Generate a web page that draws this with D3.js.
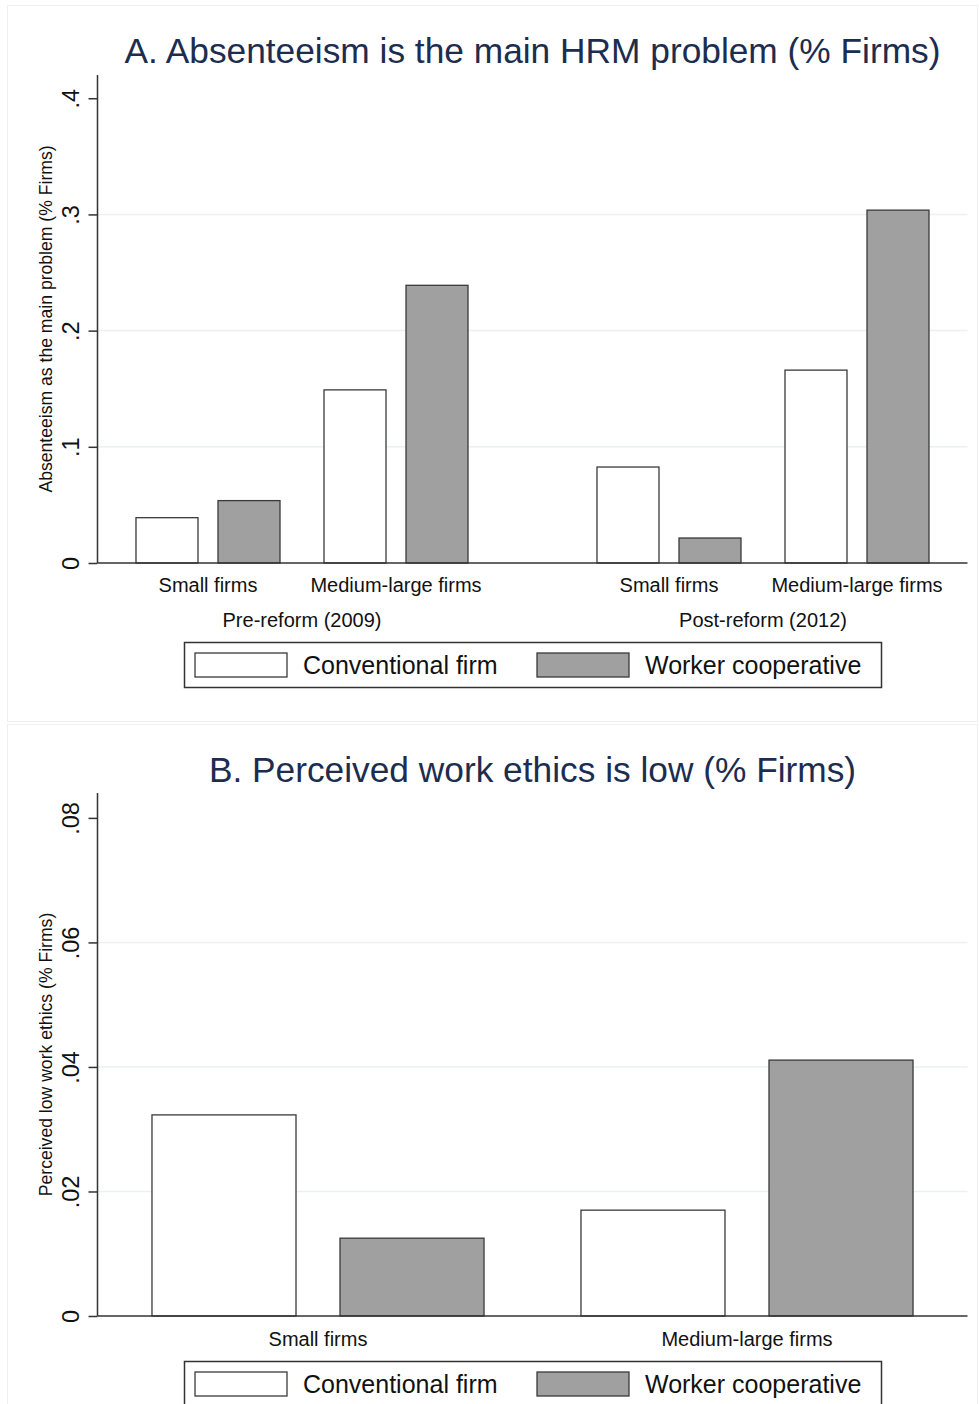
<!DOCTYPE html>
<html>
<head>
<meta charset="utf-8">
<script src="https://cdn.jsdelivr.net/npm/d3@7"></script>
<style>
    body { margin: 0; background: #fff; }
    svg { display: block; font-family: "Liberation Sans", Arial, sans-serif; }
    .title { fill: #1c2d4f; font-size: 35.3px; }
    .y-title { font-size: 17.6px; fill: #111; }
    .y-axis text { font-size: 23.5px; fill: #111; }
    .cat-label, .group-label { font-size: 20px; fill: #111; }
    .legend text { font-size: 25px; fill: #111; }
</style>
</head>
<body>
<div id="chart"></div>
<script>
// ---- data ----
const seriesNames = ["Conventional firm", "Worker cooperative"];
const seriesFill = ["#ffffff", "#a0a0a0"];

// panel A: absenteeism
const periodsA = ["Pre-reform (2009)", "Post-reform (2012)"];
const sizesA = ["Small firms", "Medium-large firms"];
// order: pre small, pre medium-large, post small, post medium-large
const convA = [0.039, 0.149, 0.0826, 0.166];
const coopA = [0.0537, 0.239, 0.0215, 0.3037];
const ticksA = [0, 0.1, 0.2, 0.3, 0.4];

// panel B: perceived work ethics
const sizesB = ["Small firms", "Medium-large firms"];
const convB = [0.0323, 0.0170];
const coopB = [0.0125, 0.0411];
const ticksB = [0, 0.02, 0.04, 0.06, 0.08];

const W = 979, H = 1404;

const svg = d3.select("#chart")
    .append("svg")
    .attr("width", W)
    .attr("height", H);

// tick format: ".1", ".02", "0"
const fmt = d => d === 0 ? "0" : d3.format(".2~f")(d).replace(/^0/, "");

function drawPanel(cfg) {
    let g = svg.append("g");

    // faint panel frame
    g.append("rect")
        .attr("x", 7.5).attr("y", cfg.frameTop + 0.5)
        .attr("width", 970).attr("height", cfg.frameH)
        .attr("fill", "none")
        .attr("stroke", "#efefef");

    let left = 97.5, right = 967.5;
    let y = d3.scaleLinear()
        .domain([0, cfg.yMax])
        .range([cfg.y0, cfg.yTop]);

    // gridlines (inner ticks only)
    g.selectAll("line.grid")
        .data(cfg.ticks.slice(1, -1))
        .enter()
        .append("line")
        .attr("class", "grid")
        .attr("x1", left).attr("x2", right)
        .attr("y1", d => y(d)).attr("y2", d => y(d))
        .attr("stroke", "#eaf0f3")
        .attr("stroke-width", 1.5);

    // scales for bar positions
    let outer = d3.scaleBand()
        .domain(cfg.outerDomain)
        .range([left, right])
        .paddingInner(cfg.outerPadIn)
        .paddingOuter(cfg.outerPadOut);
    let inner = cfg.innerDomain ? d3.scaleBand()
        .domain(cfg.innerDomain)
        .range([0, outer.bandwidth()])
        .paddingInner(0.234) : null;
    let seriesBand = d3.scaleBand()
        .domain(seriesNames)
        .range([0, inner ? inner.bandwidth() : outer.bandwidth()])
        .paddingInner(cfg.seriesPad);

    // flatten values
    let rows = [];
    cfg.conv.forEach((v, i) => {
        let o = inner ? cfg.outerDomain[Math.floor(i / 2)] : cfg.outerDomain[i];
        let c = inner ? cfg.innerDomain[i % 2] : null;
        let base = outer(o) + (inner ? inner(c) : 0);
        rows.push({x: base + seriesBand(seriesNames[0]), v: v, s: 0, base: base, cat: c || o});
        rows.push({x: base + seriesBand(seriesNames[1]), v: cfg.coop[i], s: 1, base: base, cat: c || o});
    });

    g.selectAll("rect.bar")
        .data(rows)
        .enter()
        .append("rect")
        .attr("class", "bar")
        .attr("x", d => d.x)
        .attr("y", d => y(d.v))
        .attr("width", seriesBand.bandwidth())
        .attr("height", d => y(0) - y(d.v))
        .attr("fill", d => seriesFill[d.s])
        .attr("stroke", "#3a3a3a")
        .attr("stroke-width", 1.3);

    // category labels under each pair
    let catW = inner ? inner.bandwidth() : outer.bandwidth();
    g.selectAll("text.cat-label")
        .data(rows.filter(d => d.s === 0))
        .enter()
        .append("text")
        .attr("class", "cat-label")
        .attr("x", d => d.base + catW / 2)
        .attr("y", cfg.catY)
        .attr("text-anchor", "middle")
        .text(d => d.cat);

    // group labels (panel A only)
    if (inner) {
        g.selectAll("text.group-label")
            .data(cfg.outerDomain)
            .enter()
            .append("text")
            .attr("class", "group-label")
            .attr("x", d => outer(d) + outer.bandwidth() / 2)
            .attr("y", cfg.groupY)
            .attr("text-anchor", "middle")
            .text(d => d);
    }

    // x axis line
    g.append("line")
        .attr("x1", left).attr("x2", right)
        .attr("y1", y(0)).attr("y2", y(0))
        .attr("stroke", "#333")
        .attr("stroke-width", 1.5);

    // y axis
    let yAxis = d3.axisLeft(y)
        .tickValues(cfg.ticks)
        .tickSize(9)
        .tickFormat(fmt);
    let ax = g.append("g")
        .attr("class", "y-axis")
        .attr("transform", "translate(" + left + ",0)")
        .call(yAxis);
    ax.select(".domain").attr("stroke", "#333").attr("stroke-width", 1.5)
        .attr("d", "M0," + cfg.yTop + "V" + cfg.y0);
    ax.selectAll(".tick line").attr("stroke", "#333").attr("stroke-width", 1.5);
    ax.selectAll(".tick text")
        .attr("x", null).attr("dy", null)
        .attr("text-anchor", "middle")
        .attr("font-family", null).attr("font-size", null)
        .attr("transform", "translate(-19,0) rotate(-90)");

    // y axis title
    g.append("text")
        .attr("class", "y-title")
        .attr("text-anchor", "middle")
        .attr("transform", "translate(52," + ((cfg.y0 + cfg.yTop) / 2) + ") rotate(-90)")
        .text(cfg.yTitle);

    // title
    g.append("text")
        .attr("class", "title")
        .attr("x", (left + right) / 2)
        .attr("y", cfg.titleY)
        .attr("text-anchor", "middle")
        .text(cfg.title);

    // legend
    let lg = g.append("g").attr("class", "legend");
    lg.append("rect")
        .attr("x", 184.5).attr("y", cfg.legendY + 0.5)
        .attr("width", 697).attr("height", 45)
        .attr("fill", "#fff").attr("stroke", "#333").attr("stroke-width", 1.5);
    let items = lg.selectAll("g.item")
        .data(seriesNames)
        .enter()
        .append("g")
        .attr("class", "item")
        .attr("transform", (d, i) => "translate(" + (195 + i * 342) + "," + (cfg.legendY + 11) + ")");
    items.append("rect")
        .attr("width", 92).attr("height", 24)
        .attr("fill", (d, i) => seriesFill[i])
        .attr("stroke", "#3a3a3a").attr("stroke-width", 1.3);
    items.append("text")
        .attr("x", 108).attr("y", 21)
        .text(d => d);
}

drawPanel({
    frameTop: 5, frameH: 716,
    title: "A. Absenteeism is the main HRM problem (% Firms)",
    titleY: 63,
    yTitle: "Absenteeism as the main problem (% Firms)",
    yMax: 0.42, y0: 563, yTop: 75,
    ticks: ticksA,
    outerDomain: periodsA, outerPadIn: 0.2798, outerPadOut: 0.0835,
    innerDomain: sizesA, seriesPad: 0.244,
    conv: convA, coop: coopA,
    catY: 592, groupY: 627,
    legendY: 642
});

drawPanel({
    frameTop: 724, frameH: 700,
    title: "B. Perceived work ethics is low (% Firms)",
    titleY: 782,
    yTitle: "Perceived low work ethics (% Firms)",
    yMax: 0.084, y0: 1316, yTop: 793,
    ticks: ticksB,
    outerDomain: sizesB, outerPadIn: 0.226, outerPadOut: 0.127,
    innerDomain: null, seriesPad: 0.234,
    conv: convB, coop: coopB,
    catY: 1346,
    legendY: 1361
});
</script>
</body>
</html>
